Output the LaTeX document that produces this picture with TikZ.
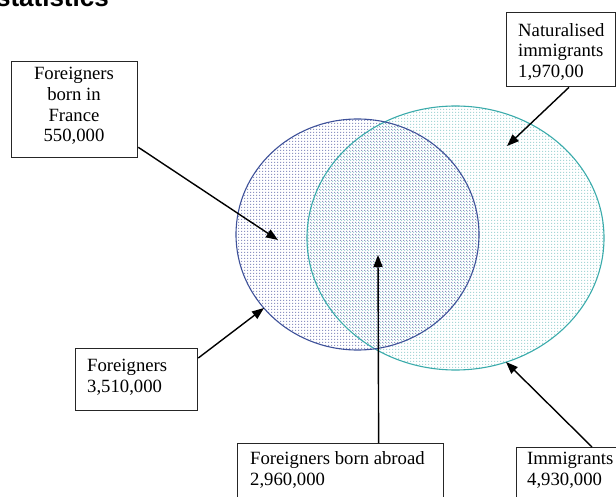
\documentclass[tikz,border=0pt]{standalone}
\usepackage{fontspec}
\setmainfont{Liberation Serif}
\newfontfamily\titlesans{Liberation Sans}
\usetikzlibrary{arrows.meta,patterns.meta,calc}

\tikzdeclarepattern{
  name=vdots,
  type=uncolored,
  bounding box={(0,0) and (2.8pt,2.8pt)},
  tile size={(2.8pt,2.8pt)},
  code={\fill (0,0) rectangle (1.3pt,1.3pt);}
}

\definecolor{blueline}{HTML}{3E5199}
\definecolor{tealline}{HTML}{3AABAB}
\definecolor{bluedot}{HTML}{8C93C2}
\definecolor{tealdot}{HTML}{A6D6D6}

\begin{document}
\begin{tikzpicture}[x=1pt,y=-1pt,
  box/.style={draw=black!85,line width=1.3pt,inner sep=0pt,anchor=north west},
  txt/.style={inner sep=0pt,font=\fontsize{18.7}{20.7}\selectfont},
  arr/.style={line width=1.4pt,-{Triangle[length=12pt,width=9pt]}}]
\useasboundingbox (0,0) rectangle (616,497);

\node[anchor=base east,inner sep=0pt,font=\titlesans\bfseries\fontsize{26}{28}\selectfont] (title) at (109,7) {statistics};

% sets
\path[pattern=vdots,pattern color=tealdot] (455.5,238) ellipse [x radius=148.5pt,y radius=132pt];
\path[pattern=vdots,pattern color=bluedot] (357.5,234.5) ellipse [x radius=121.5pt,y radius=115.5pt];
\draw[tealline,line width=1.1pt] (455.5,238) ellipse [x radius=148.5pt,y radius=132pt];
\draw[blueline,line width=1.1pt] (357.5,234.5) ellipse [x radius=121.5pt,y radius=115.5pt];

% boxes
\node[box,minimum width=126pt,minimum height=96pt] (b1) at (11,61) {};
\node[box,minimum width=109pt,minimum height=74pt] (b2) at (506,12) {};
\node[box,minimum width=122pt,minimum height=62pt] (b3) at (75,348) {};
\node[box,minimum width=206pt,minimum height=60pt] (b4) at (237,443) {};
\node[box,minimum width=110pt,minimum height=60pt] (b5) at (516,447) {};

\node[txt,anchor=north,align=center] (t1) at (74,67.2) {Foreigners\\born in\\France\\550,000};
\node[txt,anchor=north west,align=left] (t2) at (518,22.9) {Naturalised\\immigrants\\1,970,00};
\node[txt,anchor=north west,align=left] (t3) at (87,358.9) {Foreigners\\3,510,000};
\node[txt,anchor=north west,align=left] (t4) at (250,451.7) {Foreigners born abroad\\2,960,000};
\node[txt,anchor=north west,align=left] (t5) at (527,452.2) {Immigrants\\4,930,000};

% arrow targets
\coordinate (p1) at (278,240);
\coordinate (p2) at (264,308);
\coordinate (p3) at (378,255);
\coordinate (p4) at (507,146);
\coordinate (p5) at (506,362);

\draw[arr] ([yshift=11pt]b1.south east) -- (p1);
\draw[arr] ([yshift=-10pt]b3.north east) -- (p2);
\draw[arr] ([xshift=38pt]b4.north) -- (p3);
\draw[arr] ([xshift=63pt]b2.south west) -- (p4);
\draw[arr] ([xshift=76pt]b5.north west) -- (p5);
\end{tikzpicture}
\end{document}
